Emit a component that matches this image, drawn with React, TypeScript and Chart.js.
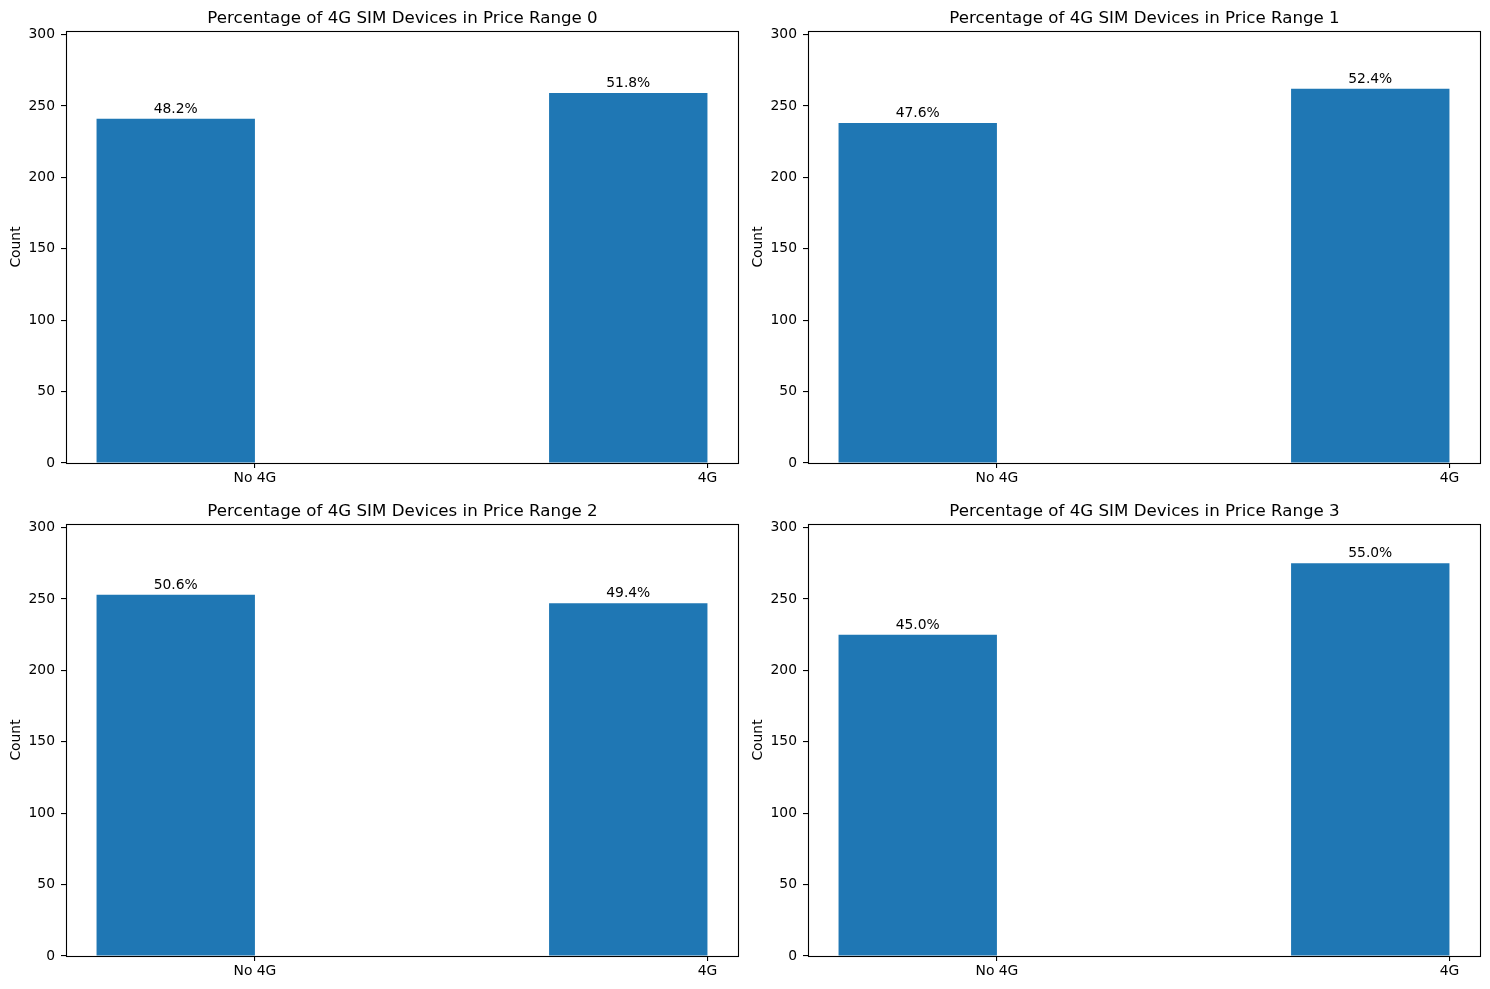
import React, { useEffect, useRef } from "react";
import { Chart, registerables } from "chart.js";

Chart.register(...registerables);

// ---- data ----
const PRICE_RANGES = [0, 1, 2, 3];
const CATEGORIES = ["No 4G", "4G"];
const COUNTS_RANGE_0 = [241, 259];
const COUNTS_RANGE_1 = [238, 262];
const COUNTS_RANGE_2 = [253, 247];
const COUNTS_RANGE_3 = [225, 275];
const COUNTS = [COUNTS_RANGE_0, COUNTS_RANGE_1, COUNTS_RANGE_2, COUNTS_RANGE_3];
const Y_TICKS = [0, 50, 100, 150, 200, 250, 300];
const BAR_WIDTH = 0.35;

// ---- derived limits ----
const Y_MAX = Math.max(...COUNTS.flat()) * 1.1;
const X_LO = -BAR_WIDTH;
const X_HI = CATEGORIES.length - 1;
const X_MARGIN = (X_HI - X_LO) * 0.05;
const X_MIN = X_LO - X_MARGIN;
const X_MAX = X_HI + X_MARGIN;

const FONT = "'DejaVu Sans', 'Liberation Sans', sans-serif";
const BLUE = "#1f77b4";
const TICK_PX = 13.89;
const TITLE_PX = 16.67;

const CANVAS_W = 742;
const CANVAS_H = 493;

function makeOverlay(title: string, counts: number[]) {
  const total = counts.reduce((a, b) => a + b, 0);
  return {
    id: "overlay",
    afterDatasetsDraw(chart: any) {
      const { ctx, chartArea } = chart;
      ctx.save();
      // frame (all four spines)
      ctx.strokeStyle = "#000";
      ctx.lineWidth = 1.1;
      ctx.strokeRect(
        chartArea.left + 0.5,
        chartArea.top + 0.5,
        chartArea.right - chartArea.left,
        chartArea.bottom - chartArea.top
      );
      // bar labels
      ctx.fillStyle = "#000";
      ctx.font = `${TICK_PX}px ${FONT}`;
      ctx.textAlign = "center";
      ctx.textBaseline = "alphabetic";
      const meta = chart.getDatasetMeta(0);
      meta.data.forEach((bar: any, i: number) => {
        const pct = ((counts[i] / total) * 100).toFixed(1) + "%";
        ctx.fillText(pct, bar.x, bar.y - 6);
      });
      // title
      ctx.font = `${TITLE_PX}px ${FONT}`;
      ctx.fillText(
        title,
        (chartArea.left + chartArea.right) / 2 + 0.5,
        chartArea.top - 7.8
      );
      ctx.restore();
    },
  };
}

function SubChart({ index }: { index: number }) {
  const ref = useRef<HTMLCanvasElement | null>(null);
  useEffect(() => {
    if (!ref.current) return;
    const counts = COUNTS[index];
    const title = `Percentage of 4G SIM Devices in Price Range ${PRICE_RANGES[index]}`;
    const chart = new Chart(ref.current, {
      type: "bar",
      data: {
        datasets: [
          {
            data: counts.map((c, i) => ({ x: i - BAR_WIDTH / 2, y: c })),
            backgroundColor: BLUE,
            borderWidth: 0,
            barPercentage: BAR_WIDTH,
            categoryPercentage: 1,
          },
        ],
      },
      options: {
        animation: false,
        responsive: false,
        devicePixelRatio: 1,
        layout: { padding: { top: 31, left: 0, right: 4, bottom: 0 } },
        plugins: {
          legend: { display: false },
          tooltip: { enabled: false },
          title: { display: false },
        },
        scales: {
          x: {
            type: "linear",
            min: X_MIN,
            max: X_MAX,
            offset: false,
            afterBuildTicks: (scale: any) => {
              scale.ticks = CATEGORIES.map((_, i) => ({ value: i }));
            },
            afterFit: (scale: any) => {
              scale.height = 30;
            },
            ticks: {
              callback: (v: any) => CATEGORIES[Math.round(Number(v))] ?? "",
              color: "#000",
              font: { family: FONT, size: TICK_PX },
              padding: 2,
              maxRotation: 0,
              autoSkip: false,
            },
            grid: {
              display: true,
              drawOnChartArea: false,
              drawTicks: true,
              tickLength: 5,
              color: "#000",
              lineWidth: 1.1,
              offset: false,
            },
            border: { display: false },
          },
          y: {
            type: "linear",
            min: 0,
            max: Y_MAX,
            afterBuildTicks: (scale: any) => {
              scale.ticks = Y_TICKS.map((v) => ({ value: v }));
            },
            afterFit: (scale: any) => {
              scale.width = 66;
            },
            ticks: {
              color: "#000",
              font: { family: FONT, size: TICK_PX },
              padding: 6,
            },
            grid: {
              display: true,
              drawOnChartArea: false,
              drawTicks: true,
              tickLength: 5,
              color: "#000",
              lineWidth: 1.1,
            },
            border: { display: false },
            title: {
              display: true,
              text: "Count",
              color: "#000",
              font: { family: FONT, size: TICK_PX },
              padding: { top: 8, bottom: 0 },
            },
          },
        },
      },
      plugins: [makeOverlay(title, counts)],
    } as any);
    return () => chart.destroy();
  }, [index]);

  const col = index % 2;
  const row = Math.floor(index / 2);
  return (
    <canvas
      ref={ref}
      width={CANVAS_W}
      height={CANVAS_H}
      style={{
        position: "absolute",
        left: col * CANVAS_W,
        top: row * CANVAS_H,
        width: CANVAS_W,
        height: CANVAS_H,
      }}
    />
  );
}

export default function App() {
  return (
    <div
      style={{
        position: "absolute",
        left: 0,
        top: 0,
        width: 1490,
        height: 989,
        background: "#fff",
        overflow: "hidden",
      }}
    >
      {PRICE_RANGES.map((_, i) => (
        <SubChart key={i} index={i} />
      ))}
    </div>
  );
}
